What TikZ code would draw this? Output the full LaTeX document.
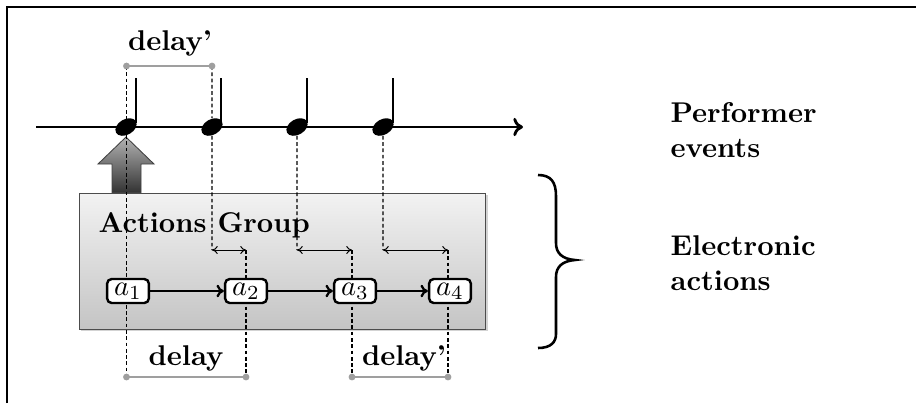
\documentclass[tikz,border=0pt]{standalone}
\usetikzlibrary{arrows.meta,shadows,shapes.geometric}
\begin{document}
\begin{tikzpicture}[x=0.35pt,y=-0.35pt,
  lbl/.style={font=\bfseries, inner sep=0pt},
  frameline/.style={line width=0.7pt},
  gapline/.style={gray!75, line width=0.75pt},
  gapdot/.style={circle, fill=gray!75, inner sep=0pt, minimum size=2.4pt},
  guide/.style={dash pattern=on 1.3pt off 0.9pt, line width=0.4pt},
  notehead/.style={ellipse, fill=black, inner sep=0pt, minimum width=8pt, minimum height=5.4pt, rotate=30},
  notestem/.style={line width=0.75pt},
  timeline/.style={line width=1pt, -{To[length=3.4pt,width=6.4pt]}},
  group/.style={draw=black!70, line width=0.35pt, top color=black!5, bottom color=black!23,
    drop shadow={shadow xshift=0.8pt, shadow yshift=-0.8pt, opacity=0.35},
    minimum width=142.45pt, minimum height=47.6pt, inner sep=0pt},
  act/.style={draw, line width=0.85pt, rounded corners=1.6pt, fill=white, inner sep=0.6pt,
    minimum width=14.6pt, minimum height=8.4pt},
  chain/.style={line width=0.8pt, -{To[length=2.6pt,width=4.4pt]}},
  delayshift/.style={line width=0.35pt, {To[length=2pt,width=2.8pt]}-{To[length=2pt,width=2.8pt]}},
  trigger/.style={draw=black!75, line width=0.3pt, top color=black!30, bottom color=black!80}
]
\useasboundingbox (0,0) rectangle (916,403);

% outer frame
\draw[frameline] (7,403) -- (7,7) -- (916,7);

% actions group
\node[group] (grp) at (282.5,261) {};
\node[lbl, anchor=base west] (grpname) at (98,232) {Actions Group};

% reference points for the timing guides
\coordinate (tl) at (126.5,66);
\coordinate (tr) at (212,66);
\coordinate (s2a) at (212,250);
\coordinate (s2b) at (246,250);
\coordinate (s3a) at (297,250);
\coordinate (s3b) at (352,250);
\coordinate (s4a) at (383,250);
\coordinate (s4b) at (448,250);
\coordinate (bl1) at (126.5,377);
\coordinate (br1) at (246,377);
\coordinate (bl2) at (352,377);
\coordinate (br2) at (448,377);

% time line with notes
\coordinate (t0) at (36,127);
\coordinate (t1) at (523,127);
\draw[timeline] (t0) -- (t1);
\node[notehead] (n1) at (126,127) {};
\node[notehead] (n2) at (212,127) {};
\node[notehead] (n3) at (297,127) {};
\node[notehead] (n4) at (383,127) {};
\foreach \x in {136,221,307,393}
  \draw[notestem] (\x,123) -- (\x,78);

% dashed guides
\draw[guide] (n2) -- (s2a);
\draw[guide] (n3) -- (s3a);
\draw[guide] (n4) -- (s4a);
\draw[guide] (tr) -- (n2);
\draw[guide] (s2b) -- (br1);
\draw[guide] (s3b) -- (bl2);
\draw[guide] (s4b) -- (br2);

% trigger arrow from the group to the first event
\path[trigger] (126,137) -- (154,164) -- (141,164) -- (141,192.5) -- (112,192.5) -- (112,164) -- (98,164) -- cycle;
\draw[guide] (tl) -- (bl1);

% actions
\node[act] (a1) at (128,291) {$a_1$};
\node[act] (a2) at (246,291) {$a_2$};
\node[act] (a3) at (355,291) {$a_3$};
\node[act] (a4) at (450,291) {$a_4$};
\draw[chain] (a1) -- (a2);
\draw[chain] (a2) -- (a3);
\draw[chain] (a3) -- (a4);

% delay shifts
\draw[delayshift] (s2a) -- (s2b);
\draw[delayshift] (s3a) -- (s3b);
\draw[delayshift] (s4a) -- (s4b);

% delay brackets
\draw[gapline] (tl) -- (tr);
\node[gapdot] at (tl) {};
\node[gapdot] at (tr) {};
\node[lbl, anchor=base] (dtop) at (170,50) {delay'};

\draw[gapline] (bl1) -- (br1);
\node[gapdot] at (bl1) {};
\node[gapdot] at (br1) {};
\node[lbl, anchor=base] (dbot1) at (186,365) {delay};

\draw[gapline] (bl2) -- (br2);
\node[gapdot] at (bl2) {};
\node[gapdot] at (br2) {};
\node[lbl, anchor=base] (dbot2) at (404,365) {delay'};

% brace
\draw[line width=0.9pt] (538,175) .. controls (551,175) and (556,182) .. (556,196) -- (556,243)
  .. controls (556,253) and (562,259) .. (575,260)
  .. controls (562,261) and (556,267) .. (556,277) -- (556,334)
  .. controls (556,342) and (551,348) .. (538,348);

% side labels (anchored on the baseline of the second line)
\node[lbl, anchor=base west, align=left] (perf) at (670,157) {Performer\\events};
\node[lbl, anchor=base west, align=left] (elec) at (670,290) {Electronic\\actions};
\end{tikzpicture}
\end{document}
